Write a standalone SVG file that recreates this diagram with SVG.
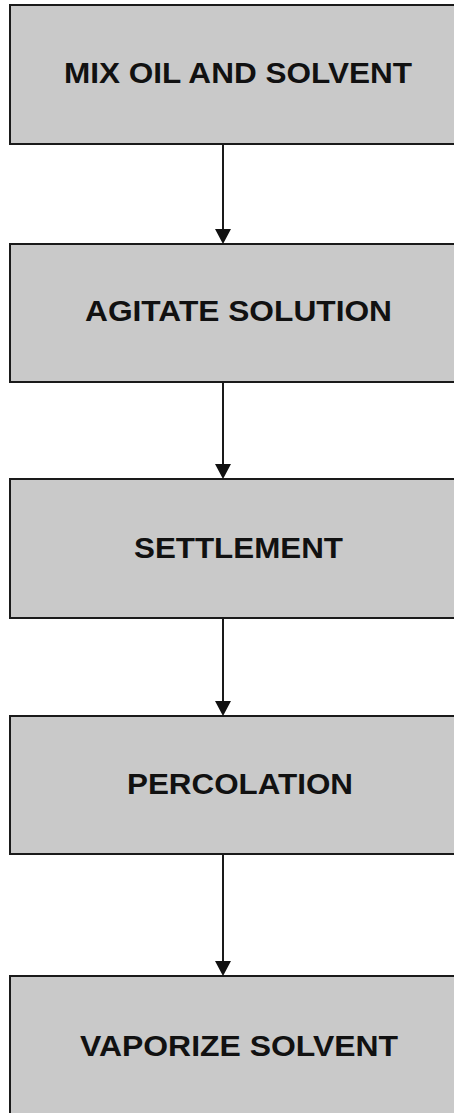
<svg xmlns="http://www.w3.org/2000/svg" width="454" height="1113" viewBox="0 0 454 1113">
<style>
.box{fill:#c9c9c9;stroke:#1a1a1a;stroke-width:2}
.lbl{font-family:"Liberation Sans",Arial,sans-serif;font-weight:bold;font-size:29px;fill:#111;text-anchor:middle}
.wire{stroke:#1a1a1a;stroke-width:2;fill:none}
.head{fill:#111}
</style>
<rect width="454" height="1113" fill="#ffffff"/>
<g id="node1"><rect class="box" x="10" y="5" width="460" height="139"/><text class="lbl" x="238" y="83" textLength="348" lengthAdjust="spacingAndGlyphs">MIX OIL AND SOLVENT</text></g>
<g id="node2"><rect class="box" x="10" y="244" width="460" height="138"/><text class="lbl" x="238.5" y="321" textLength="307" lengthAdjust="spacingAndGlyphs">AGITATE SOLUTION</text></g>
<g id="node3"><rect class="box" x="10" y="479" width="460" height="139"/><text class="lbl" x="238.5" y="558" textLength="209" lengthAdjust="spacingAndGlyphs">SETTLEMENT</text></g>
<g id="node4"><rect class="box" x="10" y="716" width="460" height="138"/><text class="lbl" x="240" y="794" textLength="226" lengthAdjust="spacingAndGlyphs">PERCOLATION</text></g>
<g id="node5"><rect class="box" x="10" y="976" width="460" height="150"/><text class="lbl" x="239" y="1056" textLength="318" lengthAdjust="spacingAndGlyphs">VAPORIZE SOLVENT</text></g>
<g id="connectors">
<line class="wire" x1="223" y1="145" x2="223" y2="232"/><polygon class="head" points="215,229 231,229 223,244"/>
<line class="wire" x1="223" y1="383" x2="223" y2="467"/><polygon class="head" points="215,464 231,464 223,479"/>
<line class="wire" x1="223" y1="619" x2="223" y2="704"/><polygon class="head" points="215,701 231,701 223,716"/>
<line class="wire" x1="223" y1="855" x2="223" y2="964"/><polygon class="head" points="215,961 231,961 223,976"/>
</g>
</svg>
